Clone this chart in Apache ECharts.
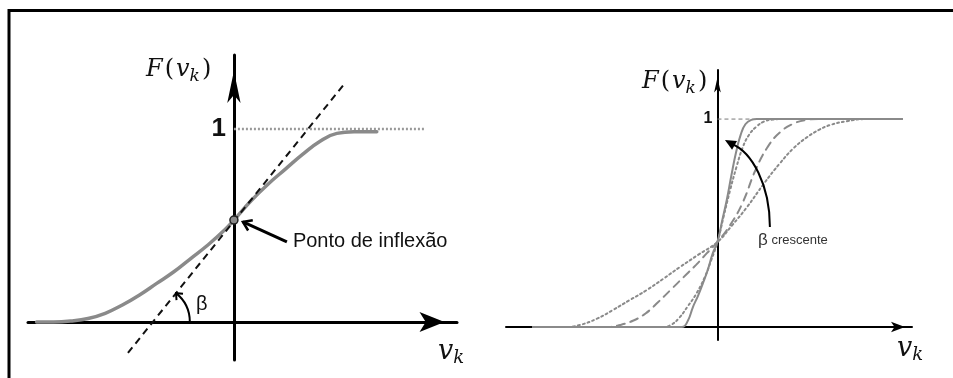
<!DOCTYPE html>
<html><head><meta charset="utf-8">
<script src="https://cdn.jsdelivr.net/npm/echarts@6/dist/echarts.min.js"></script>
<style>html,body{margin:0;padding:0;background:#fff}#c{width:953px;height:378px}</style>
</head><body><div id="c"></div>
<script>
// ---------- Left panel: sigmoid with tangent at the inflection point ----------
const leftX = [-4.6, -4.2, -3.8, -3.4, -3.0, -2.6, -2.2, -1.8, -1.4, -1.0, -0.6, -0.2, 0, 0.4, 0.8, 1.2, 1.6, 2.0, 2.4, 2.8, 3.33];
const leftF = [0, 0.0, 0.005, 0.018, 0.045, 0.088, 0.14, 0.20, 0.26, 0.33, 0.40, 0.48, 0.528, 0.628, 0.715, 0.792, 0.868, 0.935, 0.977, 0.985, 0.985];
const tangentX = [-2.47, 2.59];
const tangentF = [-0.16, 1.238];
const inflectionX = [0];
const inflectionF = [0.528];
const levelLeftX = [0, 4.45];
const levelLeftF = [1, 1];

// ---------- Right panel: four sigmoids, increasing beta ----------
const solidX = [-4.36, -0.84, -0.70, -0.58, -0.46, -0.34, -0.22, -0.11, 0, 0.11, 0.22, 0.33, 0.44, 0.55, 0.66, 0.80, 0.93, 4.36];
const solidF = [0, 0, 0.03, 0.096, 0.15, 0.212, 0.28, 0.356, 0.409, 0.51, 0.611, 0.73, 0.84, 0.925, 0.975, 0.996, 1, 1];
const dot1X = [-4.36, -1.3, -1.1, -0.9, -0.7, -0.5, -0.3, -0.15, 0, 0.15, 0.30, 0.45, 0.60, 0.75, 0.93, 1.1, 1.31, 1.5, 4.36];
const dot1F = [0, 0, 0.01, 0.045, 0.10, 0.16, 0.24, 0.32, 0.409, 0.535, 0.659, 0.77, 0.865, 0.925, 0.965, 0.988, 0.998, 1, 1];
const dashX = [-4.36, -2.6, -2.3, -2.0, -1.7, -1.4, -1.1, -0.8, -0.5, -0.25, 0, 0.3, 0.6, 0.9, 1.2, 1.5, 1.8, 2.1, 2.4, 4.36];
const dashF = [0, 0, 0.01, 0.03, 0.065, 0.12, 0.18, 0.24, 0.30, 0.355, 0.409, 0.49, 0.60, 0.755, 0.87, 0.94, 0.978, 0.996, 1, 1];
const dot2X = [-4.36, -3.6, -3.25, -2.85, -2.47, -2.07, -1.67, -1.28, -0.89, -0.45, 0, 0.35, 0.70, 1.1, 1.48, 1.8, 2.12, 2.4, 2.66, 3.06, 3.5, 4.36];
const dot2F = [0, 0, 0.01, 0.04, 0.082, 0.13, 0.178, 0.232, 0.288, 0.348, 0.409, 0.49, 0.577, 0.69, 0.788, 0.86, 0.913, 0.948, 0.971, 0.99, 1, 1];
const levelRightX = [0, 0.84];
const levelRightF = [1, 1];

const tickOneLabel = '1';
const pointLabel = 'Ponto de inflexão';
const betaLabel = 'β';
const betaGrowLabel = 'crescente';

const pts = (xs, ys) => xs.map((x, i) => [x, ys[i]]);
const GRAY = '#8a8a8a';
const SANS = '"Liberation Sans", Arial, sans-serif';

const chart = echarts.init(document.getElementById('c'), null, {renderer: 'canvas'});

function axisCfg(idx, min, max, w, sym) {
  return {type: 'value', gridIndex: idx, min, max, axisLabel: {show: false}, axisTick: {show: false},
    splitLine: {show: false},
    axisLine: {onZero: true, lineStyle: {color: '#000', width: w}, symbol: ['none', 'arrow'],
      symbolSize: sym, symbolOffset: [0, -sym[1] / 2]}};
}
function curve(xi, xs, ys, width, type, z) {
  return {type: 'line', xAxisIndex: xi, yAxisIndex: xi, data: pts(xs, ys), symbol: 'none', smooth: 0.45,
    lineStyle: {color: GRAY, width, type, cap: 'round'}, z};
}

chart.setOption({
  animation: false,
  backgroundColor: '#fff',
  grid: [
    {left: 28, top: 55, width: 429, height: 305},
    {left: 506, top: 70, width: 406, height: 270}
  ],
  xAxis: [axisCfg(0, -4.8, 5.2, 3, [15, 25]), axisCfg(1, -5, 4.6, 2, [8, 14])],
  yAxis: [axisCfg(0, -0.197, 1.383, 3, [10, 32]), axisCfg(1, -0.0625, 1.236, 2, [5, 15])],
  series: [
    {type: 'line', xAxisIndex: 0, yAxisIndex: 0, data: pts(levelLeftX, levelLeftF), symbol: 'none',
      lineStyle: {color: '#999', width: 2.5, type: [2, 2]}, z: 2},
    curve(0, leftX, leftF, 3.5, 'solid', 3),
    {type: 'line', xAxisIndex: 0, yAxisIndex: 0, data: pts(tangentX, tangentF), symbol: 'none',
      lineStyle: {color: '#111', width: 2, type: [7, 5]}, z: 4},
    {type: 'scatter', xAxisIndex: 0, yAxisIndex: 0, data: pts(inflectionX, inflectionF), symbolSize: 8,
      itemStyle: {color: GRAY, borderColor: '#222', borderWidth: 1.5, opacity: 1}, z: 5},

    {type: 'line', xAxisIndex: 1, yAxisIndex: 1, data: pts(levelRightX, levelRightF), symbol: 'none',
      lineStyle: {color: '#777', width: 1, type: [4, 3]}, z: 2},
    curve(1, dot2X, dot2F, 2, [2, 3], 3),
    curve(1, dashX, dashF, 2, [8, 6], 3),
    curve(1, dot1X, dot1F, 2, [2, 3], 3),
    curve(1, solidX, solidF, 2, 'solid', 3)
  ]
});

const P0 = p => chart.convertToPixel({gridIndex: 0}, p);
const P1 = p => chart.convertToPixel({gridIndex: 1}, p);

function chevron(tip, from, len, ang, width) {
  const dx = tip[0] - from[0], dy = tip[1] - from[1];
  const L = Math.hypot(dx, dy); const ux = dx / L, uy = dy / L;
  const arm = s => {
    const c = Math.cos(s * ang), sn = Math.sin(s * ang);
    const rx = ux * c - uy * sn, ry = ux * sn + uy * c;
    return [tip[0] - rx * len, tip[1] - ry * len];
  };
  return {type: 'polyline', shape: {points: [arm(1), tip, arm(-1)]},
    style: {stroke: '#000', lineWidth: width, fill: null, lineJoin: 'miter'}, z: 20};
}
function triHead(tip, from, len, half) {
  const dx = tip[0] - from[0], dy = tip[1] - from[1];
  const L = Math.hypot(dx, dy); const ux = dx / L, uy = dy / L;
  const bx = tip[0] - ux * len, by = tip[1] - uy * len;
  return {type: 'polygon', shape: {points: [tip, [bx - uy * half, by + ux * half], [bx + uy * half, by - ux * half]]},
    style: {fill: '#000'}, z: 20};
}
function mathLabel(x, y, main, sub, paren, fs, sfs) {
  return {type: 'text', z: 20, style: {
    x, y, verticalAlign: 'middle', align: 'left',
    text: paren ? '{i|' + main[0] + '}{n|(}{i|' + main[1] + '}{s|' + sub + '}{n|)}' : '{i|' + main + '}{s|' + sub + '}',
    rich: {
      i: {fontFamily: 'DejaVu Serif', fontStyle: 'italic', fontSize: fs, lineHeight: 30, fill: '#111', verticalAlign: 'middle'},
      n: {fontFamily: 'DejaVu Serif', fontSize: fs, lineHeight: 30, fill: '#111', verticalAlign: 'middle', padding: [0, 2, 0, 2]},
      s: {fontFamily: 'DejaVu Serif', fontStyle: 'italic', fontSize: sfs, lineHeight: 14, fill: '#111', verticalAlign: 'bottom'}
    }}};
}

// left annotations
const arrTail = P0([1.235, 0.415]);
const arrHead = P0([0.21, 0.518]);
const textPos = P0([1.375, 0.415]);
const arcC = P0([-1.89, 0]);
const arcR = 37;
const tA = P0([tangentX[0], tangentF[0]]), tB = P0([tangentX[1], tangentF[1]]);
const angPx = Math.atan2(tA[1] - tB[1], tB[0] - tA[0]);
const arcTip = [arcC[0] + arcR * Math.cos(angPx), arcC[1] - arcR * Math.sin(angPx)];
const arcPrev = [arcC[0] + arcR * Math.cos(angPx - 0.25), arcC[1] - arcR * Math.sin(angPx - 0.25)];
const oneL = P0([0, 1]);
const oneR = P1([0, 1]);

// right annotations
const cStart = P1([1.24, 0.481]);
const cCp1 = P1([1.24, 0.683]);
const cCp2 = P1([0.816, 0.841]);
const cEnd = P1([0.343, 0.88]);
const cTip = P1([0.177, 0.899]);
const growPos = P1([0.96, 0.418]);

chart.setOption({
  graphic: [
    {type: 'polyline', shape: {points: [[9, 378], [9, 10.5], [953, 10.5]]},
      style: {stroke: '#000', lineWidth: 3, fill: null}, z: 30},

    // left panel
    {type: 'line', shape: {x1: arrTail[0], y1: arrTail[1], x2: arrHead[0], y2: arrHead[1]},
      style: {stroke: '#000', lineWidth: 3}, z: 20},
    chevron(arrHead, arrTail, 10, 0.6, 2.5),
    {type: 'text', z: 20, style: {x: textPos[0], y: textPos[1], text: pointLabel, verticalAlign: 'middle',
      fontFamily: SANS, fontSize: 20, fill: '#111'}},
    {type: 'arc', shape: {cx: arcC[0], cy: arcC[1], r: arcR, startAngle: -angPx, endAngle: 0, clockwise: true},
      style: {stroke: '#000', lineWidth: 2, fill: null}, z: 20},
    chevron(arcTip, arcPrev, 7, 0.7, 2),
    {type: 'text', z: 20, style: {x: 196, y: 304, text: betaLabel, verticalAlign: 'middle',
      fontFamily: SANS, fontSize: 20, fill: '#111'}},
    {type: 'text', z: 20, style: {x: oneL[0] - 8, y: oneL[1], text: tickOneLabel, align: 'right', verticalAlign: 'middle',
      fontFamily: SANS, fontWeight: 'bold', fontSize: 26, fill: '#111'}},
    mathLabel(146, 70, ['F', 'v'], 'k', true, 24, 17),
    mathLabel(438, 352, 'v', 'k', false, 27, 18),

    // right panel
    {type: 'bezierCurve', shape: {x1: cStart[0], y1: cStart[1], x2: cEnd[0], y2: cEnd[1],
      cpx1: cCp1[0], cpy1: cCp1[1], cpx2: cCp2[0], cpy2: cCp2[1]},
      style: {stroke: '#000', lineWidth: 2, fill: null}, z: 20},
    triHead(cTip, cEnd, 11, 5),
    {type: 'text', z: 20, style: {x: growPos[0], y: growPos[1], verticalAlign: 'middle',
      text: '{b|' + betaLabel + '}{c| ' + betaGrowLabel + '}',
      rich: {b: {fontFamily: SANS, fontSize: 17, fill: '#333', verticalAlign: 'middle'},
             c: {fontFamily: SANS, fontSize: 13, fill: '#333', verticalAlign: 'middle'}}}},
    {type: 'text', z: 20, style: {x: oneR[0] - 5, y: oneR[1], text: tickOneLabel, align: 'right', verticalAlign: 'middle',
      fontFamily: SANS, fontWeight: 'bold', fontSize: 16, fill: '#111'}},
    mathLabel(642, 82, ['F', 'v'], 'k', true, 24, 17),
    mathLabel(897, 349, 'v', 'k', false, 27, 18)
  ]
});
</script></body></html>
